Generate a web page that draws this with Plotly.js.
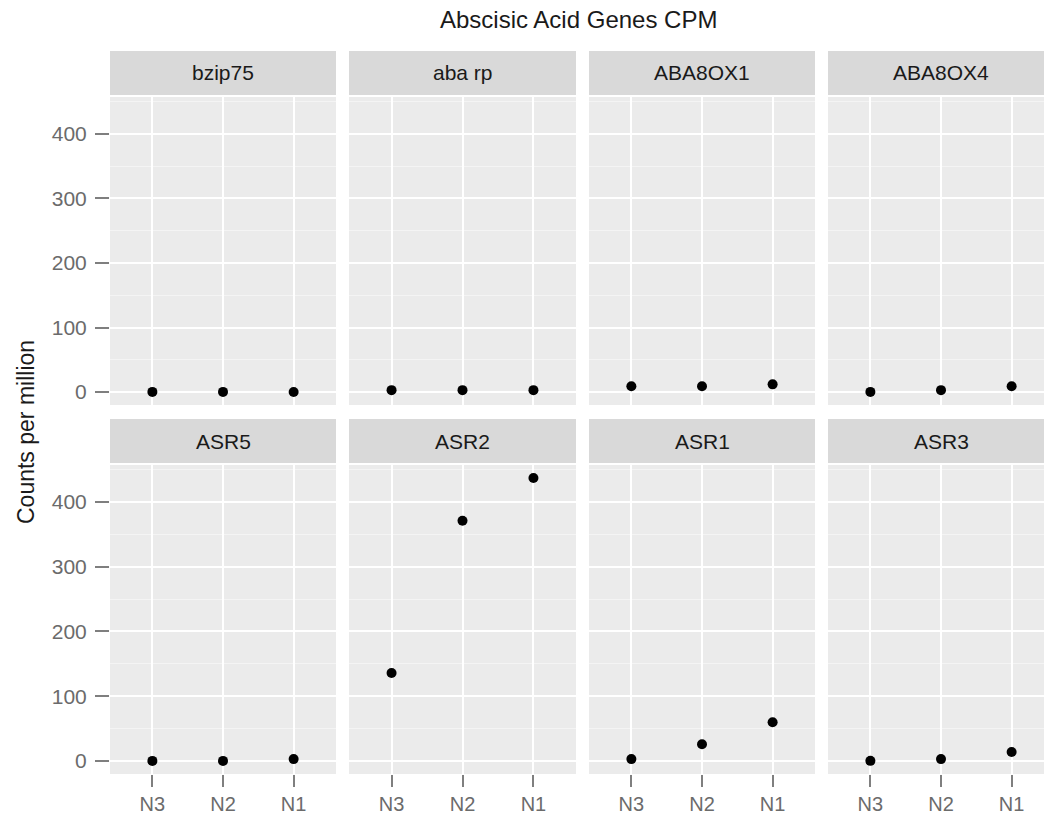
<!DOCTYPE html>
<html>
<head>
<meta charset="utf-8">
<script src="https://cdn.plot.ly/plotly-3.0.1.min.js"></script>
<style>
html,body{margin:0;padding:0;overflow:hidden;background:#fff;}
#chart{width:1054px;height:821px;}
</style>
</head>
<body>
<div id="chart"></div>
<script>
// ---- data ----
const genes = ['bzip75', 'aba rp', 'ABA8OX1', 'ABA8OX4', 'ASR5', 'ASR2', 'ASR1', 'ASR3'];
const samples = ['N3', 'N2', 'N1'];
const bzip75  = [0.3, 0.3, 0.2];
const abaRp   = [3, 3, 3];
const aba8ox1 = [9, 9, 12];
const aba8ox4 = [0.3, 3, 9];
const asr5    = [0.2, 0.2, 3];
const asr2    = [136, 371, 437];
const asr1    = [3, 26, 60];
const asr3    = [0.3, 3, 14];
const values = [bzip75, abaRp, aba8ox1, aba8ox4, asr5, asr2, asr1, asr3];
const yTicks = [0, 100, 200, 300, 400];
const chartTitle = 'Abscisic Acid Genes CPM';
const yTitle = 'Counts per million';

// ---- layout geometry ----
const W = 1054, H = 821;
const cols = [[110, 336], [349, 576], [589, 815], [828, 1054]];
const rows = [[97, 405], [465, 774]];
const strips = [[51, 95], [419, 463]];
const px = x => x / W;
const py = y => 1 - y / H;

const tickFont = {family: 'Liberation Sans, Arial, sans-serif', size: 21, color: '#6B6B6B'};
const xTickFont = {family: 'Liberation Sans, Arial, sans-serif', size: 20, color: '#6B6B6B'};
const stripFont = {family: 'Liberation Sans, Arial, sans-serif', size: 21, color: '#1A1A1A'};

const traces = [];
const layout = {
  width: W, height: H,
  margin: {l: 0, r: 0, t: 0, b: 0},
  paper_bgcolor: '#FFFFFF',
  plot_bgcolor: '#EBEBEB',
  showlegend: false,
  shapes: [],
  annotations: []
};

genes.forEach((g, i) => {
  const r = Math.floor(i / 4), c = i % 4;
  const n = i + 1;
  const xa = 'xaxis' + (n === 1 ? '' : n);
  const ya = 'yaxis' + (n === 1 ? '' : n);
  traces.push({
    type: 'scatter', mode: 'markers',
    x: samples, y: values[i],
    xaxis: 'x' + (n === 1 ? '' : n), yaxis: 'y' + (n === 1 ? '' : n),
    marker: {color: '#000000', size: 10},
    hoverinfo: 'x+y'
  });
  layout[xa] = {
    domain: [px(cols[c][0]), px(cols[c][1])],
    anchor: 'y' + (n === 1 ? '' : n),
    type: 'category',
    categoryorder: 'array', categoryarray: samples,
    range: [-0.6, 2.6],
    showgrid: true, gridcolor: '#FFFFFF', gridwidth: 2,
    zeroline: false, showline: false,
    ticks: r === 1 ? 'outside' : '',
    ticklen: 12, tickwidth: 2, tickcolor: '#7F7F7F',
    showticklabels: r === 1,
    ticklabelstandoff: 0,
    tickfont: xTickFont,
    fixedrange: true
  };
  layout[ya] = {
    domain: [py(rows[r][1]), py(rows[r][0])],
    anchor: 'x' + (n === 1 ? '' : n),
    range: [-20, 457],
    tickvals: yTicks,
    ticktext: yTicks.map(String),
    showgrid: true, gridcolor: '#FFFFFF', gridwidth: 2,
    minor: {tickvals: [50, 150, 250, 350, 450], showgrid: true, gridcolor: '#F4F4F4', gridwidth: 1, ticks: ''},
    zeroline: false, showline: false,
    ticks: c === 0 ? 'outside' : '',
    ticklen: 14, tickwidth: 2, tickcolor: '#7F7F7F',
    showticklabels: c === 0,
    ticklabelstandoff: 4,
    tickfont: tickFont,
    fixedrange: true
  };
  // strip
  layout.shapes.push({
    type: 'rect', xref: 'paper', yref: 'paper',
    x0: px(cols[c][0]), x1: px(cols[c][1]),
    y0: py(strips[r][1]), y1: py(strips[r][0]),
    fillcolor: '#D9D9D9', line: {width: 0}, layer: 'below'
  });
  layout.annotations.push({
    text: g, xref: 'paper', yref: 'paper',
    x: px((cols[c][0] + cols[c][1]) / 2), y: py((strips[r][0] + strips[r][1]) / 2),
    xanchor: 'center', yanchor: 'middle', showarrow: false,
    font: stripFont
  });
});

layout.annotations.push({
  text: chartTitle, xref: 'paper', yref: 'paper',
  x: px(578), y: py(19), xanchor: 'center', yanchor: 'middle', showarrow: false,
  font: {family: 'Liberation Sans, Arial, sans-serif', size: 24, color: '#1A1A1A'}
});
layout.annotations.push({
  text: yTitle, xref: 'paper', yref: 'paper', textangle: -90,
  x: px(26), y: py(432), xanchor: 'center', yanchor: 'middle', showarrow: false,
  font: {family: 'Liberation Sans, Arial, sans-serif', size: 23, color: '#1A1A1A'}
});

Plotly.newPlot('chart', traces, layout, {displayModeBar: false, staticPlot: true});
</script>
</body>
</html>
